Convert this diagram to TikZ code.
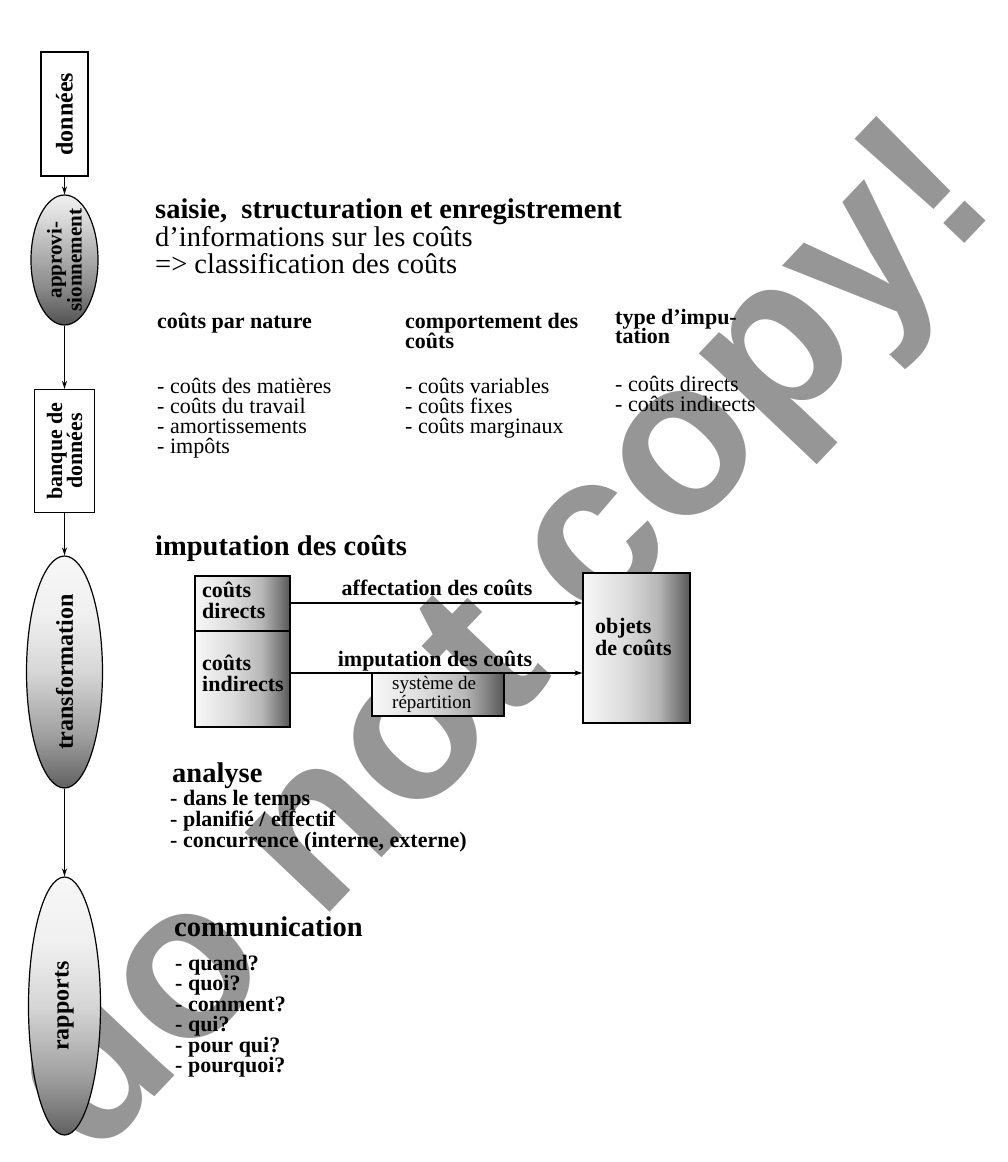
\documentclass[tikz,border=0pt]{standalone}
\usepackage{fontspec}
\setmainfont{Liberation Serif}
\newfontfamily\wmfont{Liberation Sans}
\usetikzlibrary{shapes.geometric,arrows.meta}

% left-to-right grey ramp for the cost boxes
\pgfdeclarehorizontalshading{boxgrad}{100bp}{color(0bp)=(black!3); color(25bp)=(black!3); color(45bp)=(black!14); color(60bp)=(black!28); color(69bp)=(black!50); color(75bp)=(black!66); color(100bp)=(black!66)}
% top-to-bottom grey ramp for the process ovals
\pgfdeclareverticalshading{ovalgrad}{100bp}{color(0bp)=(black!62); color(25bp)=(black!62); color(36bp)=(black!38); color(50bp)=(black!16); color(62bp)=(black!6); color(75bp)=(black!3); color(100bp)=(black!3)}
% a deeper ramp for the supply oval
\pgfdeclareverticalshading{ovaldeep}{100bp}{color(0bp)=(black!68); color(25bp)=(black!68); color(40bp)=(black!45); color(55bp)=(black!28); color(68bp)=(black!12); color(75bp)=(black!6); color(100bp)=(black!6)}

\begin{document}
\begin{tikzpicture}[x=1pt,y=-1pt,
  flow/.style={-{Stealth[length=8pt,width=5pt]}, line width=1.1pt},
  lanebox/.style={draw, line width=1.2pt, fill=white, inner sep=0pt},
  oval/.style={ellipse, draw, line width=1.2pt, shade, shading=ovalgrad, inner sep=0pt},
  gbox/.style={draw, line width=1.2pt, shade, shading=boxgrad, inner sep=0pt},
  vlab/.style={rotate=90, align=center, inner sep=0pt, font=\fontsize{24}{22}\selectfont\bfseries},
  head/.style={anchor=base west, inner sep=0pt, font=\fontsize{28.5}{30}\selectfont\bfseries},
  big/.style={anchor=base west, inner sep=0pt, font=\fontsize{28.5}{30}\selectfont},
  colhead/.style={anchor=base west, inner sep=0pt, font=\fontsize{22}{24}\selectfont\bfseries},
  item/.style={anchor=base west, inner sep=0pt, font=\fontsize{22}{24}\selectfont},
  bitem/.style={anchor=base west, inner sep=0pt, font=\fontsize{22}{24}\selectfont\bfseries},
  small/.style={anchor=base west, inner sep=0pt, font=\fontsize{19}{20}\selectfont},
  wm/.style={inner sep=0pt, text=black!41, font=\fontsize{220}{220}\selectfont\wmfont\bfseries}
]
\useasboundingbox (0,0) rectangle (1008,1162);
\fill[white] (0,0) rectangle (1008,1162);

% background stamp
\node[wm, rotate=46.5] (stamp) at (505,645) {do not copy!};

% ---------- process lane on the left ----------
\node[lanebox, minimum width=47pt, minimum height=124pt] (don) at (64.5,114) {};
\node[vlab] (don-t) at (don.center) {données};

\node[oval, shading=ovaldeep, minimum width=67pt, minimum height=130pt] (appro) at (64.5,260) {};
\node[vlab, font=\fontsize{21}{19}\selectfont\bfseries] (appro-t) at (appro.center) {approvi-\\sionnement};

\node[lanebox, minimum width=60pt, minimum height=123pt] (bank) at (64.5,451) {};
\node[vlab, font=\fontsize{22}{20}\selectfont\bfseries] (bank-t) at (bank.center) {banque de\\données};

\node[oval, minimum width=76pt, minimum height=232pt] (trans) at (64.5,672) {};
\node[vlab] (trans-t) at (trans.center) {transformation};

\node[oval, minimum width=72pt, minimum height=258pt] (rap) at (64.5,1006) {};
\node[vlab] (rap-t) at (rap.center) {rapports};

\draw[flow] (don) -- (appro);
\draw[flow] (appro) -- (bank);
\draw[flow] (bank) -- (trans);
\draw[flow] (trans) -- (rap);

% ---------- recording and classification ----------
\node[head] (s1) at (155,218) {saisie,\ \ structuration et enregistrement};
\node[big]  (s2) at (155,246) {d’informations sur les coûts};
\node[big]  (s3) at (155,273) {=> classification des coûts};

\node[colhead] (h1)  at (157,328) {coûts par nature};
\node[colhead] (h2a) at (405,328) {comportement des};
\node[colhead] (h2b) at (405,348) {coûts};
\node[colhead] (h3a) at (615,324) {type d’impu-};
\node[colhead] (h3b) at (615,343) {tation};

\node[item] (a1) at (157,393) {- coûts des matières};
\node[item] (a2) at (157,413) {- coûts du travail};
\node[item] (a3) at (157,433) {- amortissements};
\node[item] (a4) at (157,453) {- impôts};

\node[item] (b1) at (405,393) {- coûts variables};
\node[item] (b2) at (405,413) {- coûts fixes};
\node[item] (b3) at (405,433) {- coûts marginaux};

\node[item] (c1) at (615,391) {- coûts directs};
\node[item] (c2) at (615,411) {- coûts indirects};

% ---------- cost allocation ----------
\node[head] (imp) at (155,555) {imputation des coûts};

\node[gbox, minimum width=95pt, minimum height=55pt] (dir) at (242.5,603.5) {};
\node[gbox, minimum width=95pt, minimum height=96pt] (ind) at (242.5,679) {};
\node[bitem] (dir1) at (202,597) {coûts};
\node[bitem] (dir2) at (202,618) {directs};
\node[bitem] (ind1) at (202,670) {coûts};
\node[bitem] (ind2) at (202,691) {indirects};

\node[gbox, minimum width=107pt, minimum height=150pt] (obj) at (636.5,648) {};
\node[bitem] (obj1) at (595,633) {objets};
\node[bitem] (obj2) at (595,655) {de coûts};

\coordinate (r1) at (obj.west |- 0,603);
\coordinate (r2) at (obj.west |- 0,673);
\draw[flow] (dir.east |- r1) -- (r1);
\draw[flow] (ind.east |- r2) -- (r2);

\node[gbox, minimum width=132pt, minimum height=43pt] (rep) at (438,694.5) {};
\node[small] (rep1) at (392,689) {système de};
\node[small] (rep2) at (392,708) {répartition};

\node[bitem, anchor=base] (aff) at (437,595) {affectation des coûts};
\node[bitem, anchor=base] (impl) at (435,666) {imputation des coûts};

% ---------- analysis ----------
\node[head] (an) at (172,782) {analyse};
\node[bitem] (an1) at (170,805) {- dans le temps};
\node[bitem] (an2) at (170,826) {- planifié / effectif};
\node[bitem] (an3) at (170,847) {- concurrence (interne, externe)};

% ---------- communication ----------
\node[head] (com) at (174,936) {communication};
\node[bitem] (q1) at (175,970) {- quand?};
\node[bitem] (q2) at (175,990.5) {- quoi?};
\node[bitem] (q3) at (175,1011) {- comment?};
\node[bitem] (q4) at (175,1031.5) {- qui?};
\node[bitem] (q5) at (175,1052) {- pour qui?};
\node[bitem] (q6) at (175,1072.5) {- pourquoi?};
\end{tikzpicture}
\end{document}
